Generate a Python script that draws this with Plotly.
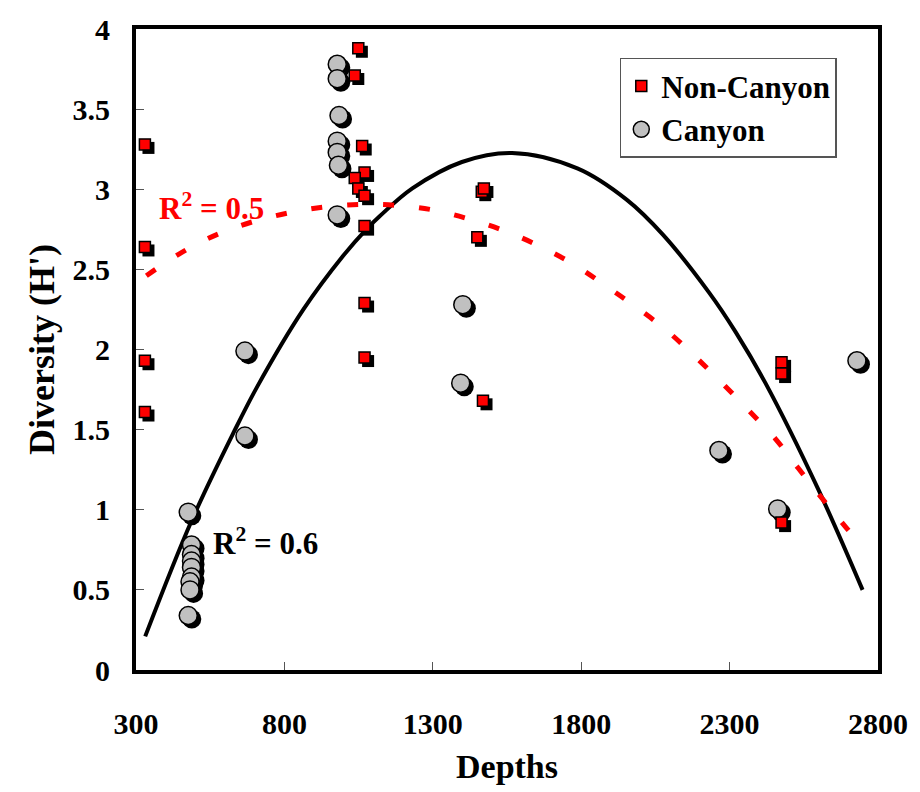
import plotly.graph_objects as go

# Non-Canyon (red squares)
nc_depth = [330, 330, 330, 330, 1049, 1037, 1062, 1070, 1037, 1049, 1070, 1070, 1070, 1070,
            1465, 1472, 1450, 1469, 2475, 2475, 2475]
nc_div = [3.28, 2.64, 1.93, 1.61, 3.88, 3.71, 3.27, 3.105, 3.07, 3.005, 2.96, 2.77, 2.29, 1.95,
          2.985, 3.005, 2.70, 1.68, 1.92, 1.85, 0.92]

# Canyon (grey circles)
c_depth = [978, 978, 984, 978, 978, 982, 978, 667, 667, 1401, 1394, 2264, 2729, 2462,
           476, 487, 487, 487, 487, 487, 482, 482, 476]
c_div = [3.78, 3.69, 3.46, 3.30, 3.23, 3.15, 2.84, 1.99, 1.46, 2.28, 1.79, 1.37, 1.93, 1.005,
         0.985, 0.78, 0.72, 0.68, 0.64, 0.58, 0.55, 0.50, 0.34]

# Trend line, Canyon (solid black)
c_fit_x = [331, 487, 631, 709, 864, 998, 1076, 1120, 1231, 1398, 1567, 1787, 1953, 2076,
           2231, 2320, 2420, 2598, 2748]
c_fit_y = [0.21, 0.93, 1.49, 1.77, 2.25, 2.585, 2.75, 2.83, 3.005, 3.17, 3.226, 3.13, 2.935,
           2.715, 2.355, 2.11, 1.793, 1.13, 0.50]

# Trend line, Non-Canyon (red dashed)
nc_fit_x = [335, 453, 576, 698, 820, 937, 1060, 1176, 1303, 1420, 1542, 1659, 1776, 1881,
            1981, 2081, 2176, 2270, 2364, 2453, 2531, 2609, 2692, 2715]
nc_fit_y = [2.46, 2.605, 2.72, 2.80, 2.855, 2.89, 2.905, 2.90, 2.87, 2.815, 2.74, 2.646, 2.53,
            2.40, 2.27, 2.13, 1.97, 1.80, 1.62, 1.446, 1.26, 1.077, 0.89, 0.84]

x_ticks = [300, 800, 1300, 1800, 2300, 2800]
y_ticks = [0, 0.5, 1, 1.5, 2, 2.5, 3, 3.5, 4]

FONT = "Liberation Serif"

# shadow offset (about 3-4 px right/down)
sdx, sdy = 12, -0.022

fig = go.Figure()

fig.add_trace(go.Scatter(x=c_fit_x, y=c_fit_y, mode="lines",
                         line=dict(color="black", width=4, shape="spline", smoothing=1.0),
                         showlegend=False, hoverinfo="skip"))
fig.add_trace(go.Scatter(x=nc_fit_x, y=nc_fit_y, mode="lines",
                         line=dict(color="#FF0000", width=5, dash="11px,25px", shape="spline", smoothing=1.0),
                         showlegend=False, hoverinfo="skip"))

# shadows
fig.add_trace(go.Scatter(x=[v + sdx for v in c_depth], y=[v + sdy for v in c_div], mode="markers",
                         marker=dict(symbol="circle", size=19, color="black", line=dict(width=0)),
                         showlegend=False, hoverinfo="skip"))
fig.add_trace(go.Scatter(x=c_depth, y=c_div, mode="markers", name="Canyon",
                         marker=dict(symbol="circle", size=18, color="#C0C0C0", line=dict(color="black", width=1.5)),
                         showlegend=False))
fig.add_trace(go.Scatter(x=[v + sdx for v in nc_depth], y=[v + sdy for v in nc_div], mode="markers",
                         marker=dict(symbol="square", size=12, color="black", line=dict(width=0)),
                         showlegend=False, hoverinfo="skip"))
fig.add_trace(go.Scatter(x=nc_depth, y=nc_div, mode="markers", name="Non-Canyon",
                         marker=dict(symbol="square", size=11, color="#FF0000", line=dict(color="black", width=1.5)),
                         showlegend=False))

# legend entries (no shadow)
fig.add_trace(go.Scatter(x=[None], y=[None], mode="markers", name="Non-Canyon",
                         marker=dict(symbol="square", size=11, color="#FF0000", line=dict(color="black", width=1.5))))
fig.add_trace(go.Scatter(x=[None], y=[None], mode="markers", name="Canyon",
                         marker=dict(symbol="circle", size=18, color="#C0C0C0", line=dict(color="black", width=1.5))))

fig.add_annotation(x=553, y=2.89, text="R<sup>2</sup> = 0.5", showarrow=False,
                   font=dict(family=FONT, size=31, color="#FF0000", weight="bold"))
fig.add_annotation(x=735, y=0.80, text="R<sup>2</sup> = 0.6", showarrow=False,
                   font=dict(family=FONT, size=31, color="black", weight="bold"))

axis_common = dict(showline=True, linecolor="black", linewidth=4, mirror=True,
                   ticks="inside", ticklen=8, tickwidth=1, tickcolor="#555555",
                   showgrid=False, zeroline=False,
                   tickfont=dict(family=FONT, size=30, color="black", weight="bold"))

fig.update_layout(
    width=920, height=792,
    margin=dict(l=136, r=36, t=20, b=122),
    paper_bgcolor="white", plot_bgcolor="white",
    font=dict(family=FONT, color="black"),
    xaxis=dict(range=[300, 2800], tickvals=x_ticks, ticktext=[str(v) for v in x_ticks],
               ticklabelstandoff=24,
               title=dict(text="Depths", font=dict(family=FONT, size=34, weight="bold"), standoff=16),
               **axis_common),
    yaxis=dict(range=[0, 4], tickvals=y_ticks, ticktext=[("%g" % v) for v in y_ticks],
               ticklabelstandoff=16,
               title=dict(text="Diversity (H')", font=dict(family=FONT, size=36, weight="bold"), standoff=8),
               **axis_common),
    legend=dict(x=0.652, y=0.955, xanchor="left", yanchor="top",
                bgcolor="white", bordercolor="#555555", borderwidth=1.5,
                font=dict(family=FONT, size=31, color="black", weight="bold"),
                itemsizing="trace", tracegroupgap=0),
)

fig.write_html("out.html")
